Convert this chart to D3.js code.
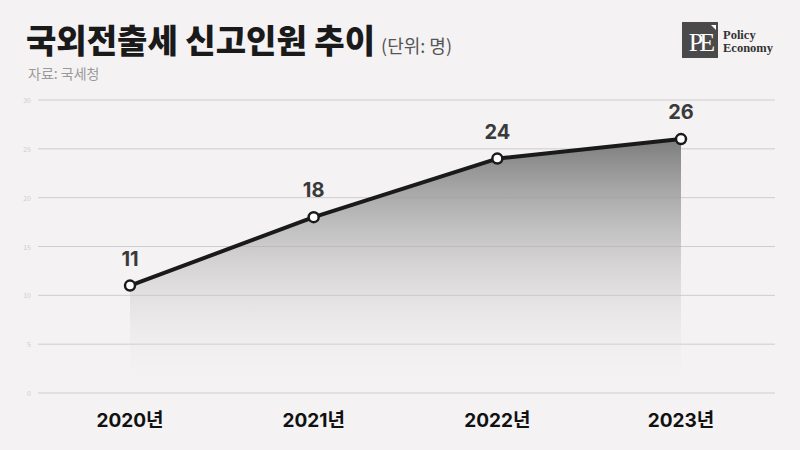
<!DOCTYPE html>
<html><head><meta charset="utf-8">
<script src="https://cdn.jsdelivr.net/npm/d3@7"></script>
<style>
html,body{margin:0;padding:0;background:#f4f2f3;}
svg{display:block;}
</style></head>
<body>
<svg id="chart" width="800" height="450"></svg>
<script>
const categories = ["2020년", "2021년", "2022년", "2023년"];
const values = [11, 18, 24, 26];
const yTicks = [0, 5, 10, 15, 20, 25, 30];

const svg = d3.select("#chart");
const W = 800, H = 450;
svg.append("rect").attr("width", W).attr("height", H).attr("fill", "#f4f2f3");

const font = "'Noto Sans CJK KR', 'Noto Sans', sans-serif";
const numFont = "Inter, 'Noto Sans CJK KR', sans-serif";

// Title
const title = svg.append("text").attr("x", 26).attr("y", 53)
  .attr("font-family", font).attr("fill", "#1a1a1a");
title.append("tspan").attr("font-size", 33).attr("font-weight", 900).text("국외전출세 신고인원 추이");
title.append("tspan").attr("font-size", 18).attr("font-weight", 400).attr("fill", "#555").attr("dx", 6).text("(단위: 명)");
svg.append("text").attr("x", 28).attr("y", 79).attr("font-family", font)
  .attr("font-size", 14).attr("fill", "#9a9a9a").text("자료: 국세청");

// Logo
const logo = svg.append("g");
logo.append("rect").attr("x", 682).attr("y", 22).attr("width", 36).attr("height", 36).attr("fill", "#4a4a4a");
logo.append("path").attr("d", "M711,25 L716,25 L716,30 Z").attr("fill", "#fff");
logo.append("text").attr("x", 700).attr("y", 51).attr("text-anchor", "middle")
  .attr("font-family", "'Liberation Serif', 'DejaVu Serif', serif").attr("font-size", 26)
  .attr("fill", "#fff").attr("letter-spacing", -4).text("PE");
logo.append("text").attr("x", 723).attr("y", 39).attr("font-family", "'Liberation Serif', serif")
  .attr("font-size", 12.5).attr("font-weight", 700).attr("fill", "#333").text("Policy");
logo.append("text").attr("x", 723).attr("y", 52).attr("font-family", "'Liberation Serif', serif")
  .attr("font-size", 12.5).attr("font-weight", 700).attr("fill", "#333").text("Economy");

// Scales
const y = d3.scaleLinear().domain([0, 30]).range([393, 100]);
const x = d3.scalePoint().domain(categories).range([130, 681]);

// Grid
const grid = svg.append("g");
grid.selectAll("line").data(yTicks).join("line")
  .attr("x1", 38).attr("x2", 775)
  .attr("y1", d => y(d)).attr("y2", d => y(d))
  .attr("stroke", "#cfcdce").attr("stroke-width", 1);
grid.selectAll("text").data(yTicks).join("text")
  .attr("x", 31).attr("y", d => y(d) + 3)
  .attr("text-anchor", "end").attr("font-family", font)
  .attr("font-size", 7).attr("fill", "#d0cecf").text(d => d);

// Gradient
const defs = svg.append("defs");
const grad = defs.append("linearGradient").attr("id", "areaGrad")
  .attr("gradientUnits", "userSpaceOnUse")
  .attr("x1", 0).attr("x2", 0).attr("y1", y(26)).attr("y2", y(0));
grad.append("stop").attr("offset", 0).attr("stop-color", "#7c7c7c").attr("stop-opacity", 1);
grad.append("stop").attr("offset", 1).attr("stop-color", "#f4f2f3").attr("stop-opacity", 0);

const data = categories.map((c, i) => ({c, v: values[i]}));

svg.append("path").datum(data)
  .attr("d", d3.area().x(d => x(d.c)).y0(y(0)).y1(d => y(d.v)))
  .attr("fill", "url(#areaGrad)");

svg.append("path").datum(data)
  .attr("d", d3.line().x(d => x(d.c)).y(d => y(d.v)))
  .attr("fill", "none").attr("stroke", "#1a1a1a").attr("stroke-width", 4)
  .attr("stroke-linejoin", "round");

svg.append("g").selectAll("circle").data(data).join("circle")
  .attr("cx", d => x(d.c)).attr("cy", d => y(d.v)).attr("r", 5)
  .attr("fill", "#fff").attr("stroke", "#1a1a1a").attr("stroke-width", 2.5);

svg.append("g").selectAll("text").data(data).join("text")
  .attr("x", d => x(d.c)).attr("y", d => y(d.v) - 20)
  .attr("text-anchor", "middle").attr("font-family", numFont)
  .attr("font-size", 20).attr("font-weight", 700).attr("fill", "#3a3a3a")
  .text(d => d.v);

// X axis labels
svg.append("g").selectAll("text").data(categories).join("text")
  .attr("x", d => x(d)).attr("y", 427)
  .attr("text-anchor", "middle").attr("font-family", numFont)
  .attr("font-size", 19).attr("font-weight", 700).attr("fill", "#111")
  .text(d => d);
</script>
</body></html>
